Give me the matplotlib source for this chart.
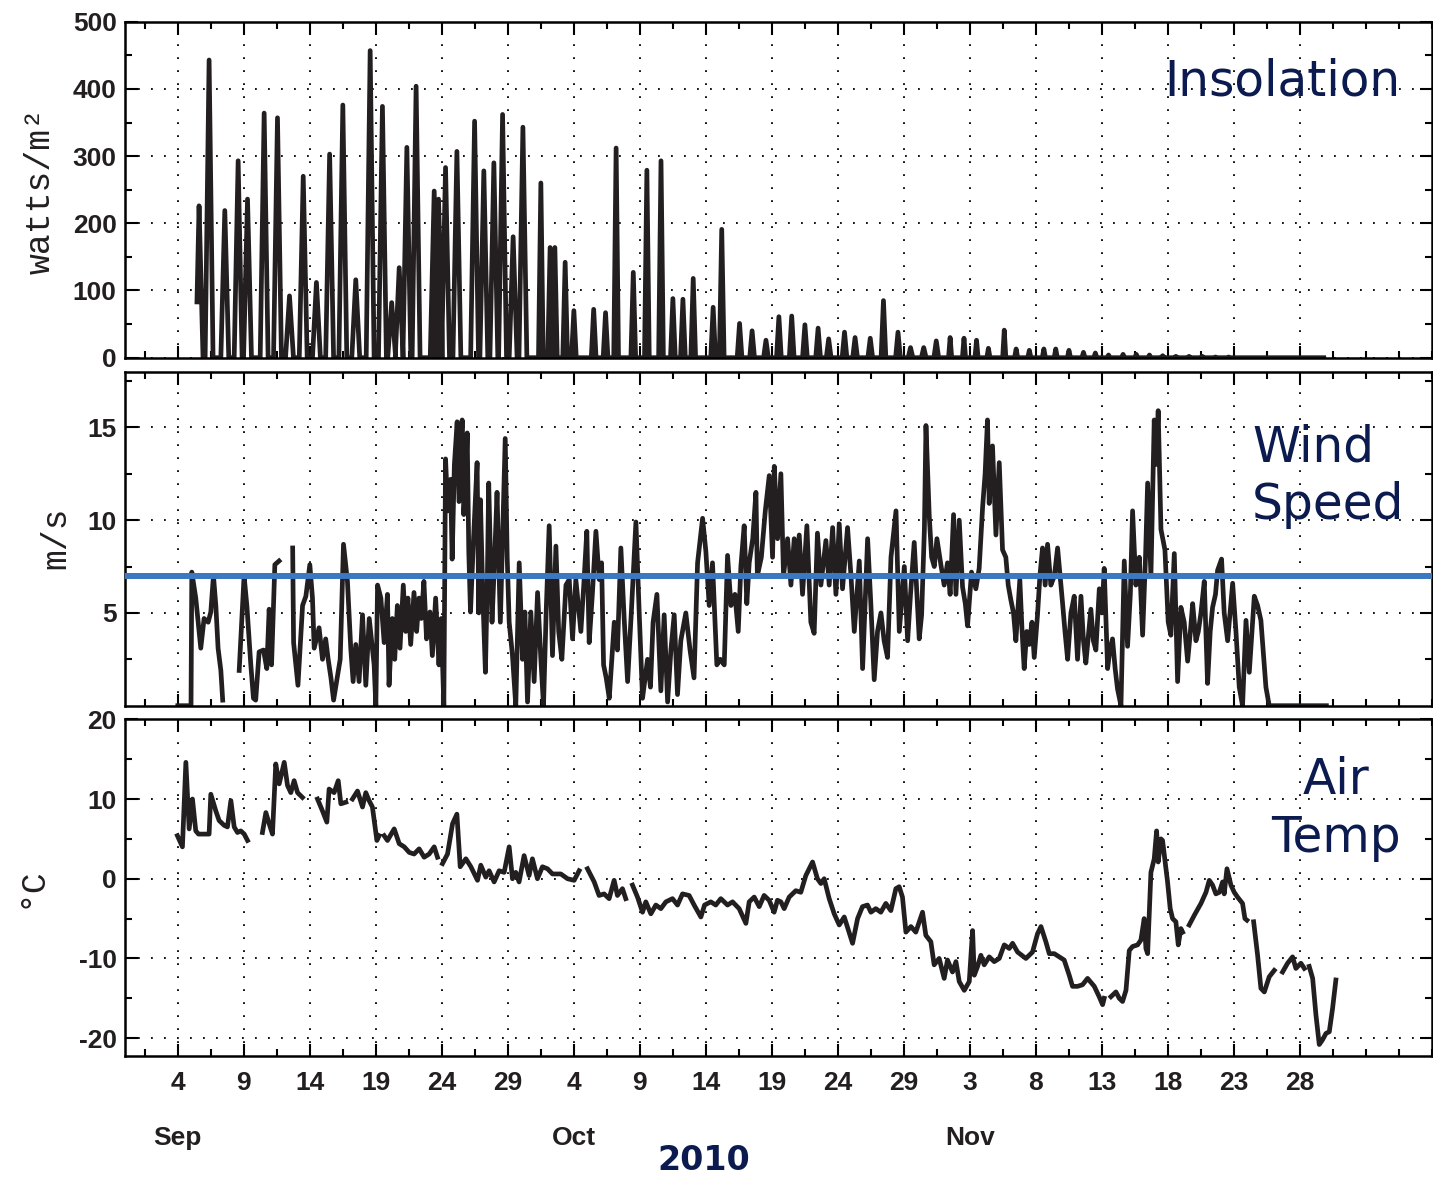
import numpy as np
import matplotlib
matplotlib.use('Agg')
from matplotlib import pyplot as plt
from matplotlib import transforms
from matplotlib.ticker import FixedLocator

plt.rcParams['axes.unicode_minus'] = False

# time axis: days counted from Aug 31 2010 (Sep 4 -> 4, Oct 4 -> 34, Nov 3 -> 64)
major_days = [4, 9, 14, 19, 24, 29, 34, 39, 44, 49, 54, 59, 64, 69, 74, 79, 84, 89]
major_labels = ['4', '9', '14', '19', '24', '29', '4', '9', '14', '19', '24', '29',
                '3', '8', '13', '18', '23', '28']
month_days = [4, 34, 64]
month_names = ['Sep', 'Oct', 'Nov']

# insolation: time and value of each daily maximum (W/m2)
sun_start = (5.45, 83)
sun_day = [5.61, 6.37, 7.56, 8.57, 9.28, 10.54, 11.55, 12.46, 13.5, 14.5, 15.5, 16.5,
           17.48, 18.57, 19.5, 20.2, 20.77, 21.35, 22.05, 23.42, 23.75, 24.28, 25.14,
           26.48, 27.18, 27.94, 28.6, 29.4, 30.14, 31.5, 32.2, 32.56, 33.34, 34.0, 35.5,
           36.4, 37.2, 38.5, 39.53, 40.6, 41.5, 42.26, 43.04, 44.55, 45.2, 46.55, 47.5,
           48.55, 49.53, 50.5, 51.5, 52.5, 53.3, 54.5, 55.3, 56.45, 57.45, 58.55, 59.5,
           60.5, 61.45, 62.5, 63.55, 64.5, 65.4, 66.6, 67.5, 68.5, 69.6, 70.5, 71.5,
           72.6, 73.5, 74.5, 75.6, 76.6, 77.6, 78.6, 79.6, 80.6, 81.6, 82.6, 83.6]
sun_peak = [226, 443, 219, 293, 236, 364, 357, 92, 270, 112, 303, 376,
            116, 457, 374, 82, 134, 313, 404, 248, 236, 283, 307,
            352, 278, 290, 362, 180, 343, 260, 164, 164, 142, 70, 72,
            67, 312, 127, 279, 293, 88, 87, 118, 75, 191, 51, 40,
            26, 61, 62, 49, 44, 28, 38, 30, 29, 85, 38, 15,
            15, 25, 30, 29, 26, 14, 41, 13, 11, 13, 13, 11,
            8, 7, 4, 5, 5, 4, 3, 2, 2, 2, 1, 1]
sun_end = 90.8

nan = np.nan
# wind speed (m/s)
wind_t = [4.0, 4.6, 5.0, 5.06, 5.36, 5.74, 5.99, 6.3, 6.5, 6.7, 6.88, 7.05, 7.26, 7.4, 7.9,
          8.65, 9.02, 9.23, 9.53, 9.73, 9.9, 10.16, 10.49, 10.74, 10.92, 11.1, 11.35, 11.67, 12.2,
          12.7, 12.77, 13.1, 13.45, 13.7, 14.0, 14.2, 14.33, 14.7, 14.96, 15.2, 15.39, 15.6, 15.8,
          16.3, 16.55, 16.85, 17.1, 17.28, 17.48, 17.73, 17.99, 18.24, 18.5, 18.87, 19.0, 19.13,
          19.38, 19.63, 19.88, 20.0, 20.25, 20.43, 20.63, 20.83, 21.08, 21.26, 21.43, 21.64,
          21.89, 22.09, 22.27, 22.44, 22.64, 22.84, 23.1, 23.28, 23.53, 23.78, 23.95, 24.15,
          24.28, 24.45, 24.66, 24.78, 24.95, 25.16, 25.3, 25.54, 25.66, 25.8, 25.92, 26.04,
          26.17, 26.4, 26.67, 26.8, 26.92, 27.1, 27.3, 27.45, 27.55, 27.8, 28.0, 28.18, 28.43,
          28.6, 28.8, 28.95, 29.1, 29.35, 29.6, 29.86, 30.11, 30.29, 30.49, 30.74, 30.99, 31.25,
          31.5, 31.7, 31.9, 32.13, 32.38, 32.64, 32.85, 33.09, 33.4, 33.65, 33.9, 34.15, 34.53,
          34.75, 34.98, 35.16, 35.4, 35.67, 35.92, 36.1, 36.25, 36.45, 36.68, 37.06, 37.3, 37.56,
          37.81, 38.07, 38.35, 38.7, 38.95, 39.2, 39.58, 39.8, 40.0, 40.29, 40.59, 40.84, 41.1,
          41.35, 41.6, 41.85, 42.1, 42.48, 42.8, 43.1, 43.37, 43.75, 44.0, 44.25, 44.5, 44.83,
          45.09, 45.39, 45.64, 45.9, 46.2, 46.45, 46.65, 46.9, 47.1, 47.28, 47.55, 47.79, 47.9,
          48.2, 48.5, 48.8, 49.05, 49.18, 49.43, 49.68, 49.88, 50.19, 50.44, 50.69, 50.85, 51.07,
          51.32, 51.65, 51.95, 52.2, 52.45, 52.71, 53.09, 53.34, 53.6, 53.85, 54.1, 54.35, 54.73,
          54.99, 55.24, 55.62, 55.87, 56.25, 56.5, 56.75, 57.0, 57.26, 57.5, 57.76, 58.02, 58.4,
          58.65, 59.03, 59.28, 59.5, 59.78, 60.16, 60.34, 60.55, 60.67, 60.92, 61.1, 61.3, 61.5,
          61.8, 62.05, 62.3, 62.5, 62.76, 62.94, 63.19, 63.44, 63.65, 63.82, 64.12, 64.45, 64.7,
          64.96, 65.15, 65.33, 65.46, 65.71, 65.97, 66.22, 66.47, 66.72, 66.9, 67.1, 67.3, 67.48,
          67.78, 67.95, 68.11, 68.3, 68.49, 68.7, 68.87, 69.12, 69.3, 69.5, 69.7, 69.88, 70.13,
          70.4, 70.64, 71.02, 71.2, 71.4, 71.65, 71.9, 72.15, 72.41, 72.6, 72.78, 73.0, 73.16,
          73.35, 73.54, 73.8, 74.0, 74.17, 74.43, 74.6, 74.8, 75.0, 75.18, 75.44, 75.69, 75.94,
          76.15, 76.32, 76.57, 76.83, 77.08, 77.3, 77.46, 77.71, 77.96, 78.1, 78.26, 78.47, 78.77,
          79.02, 79.22, 79.48, 79.73, 79.98, 80.23, 80.49, 80.7, 80.87, 81.12, 81.3, 81.5, 81.75,
          82.0, 82.2, 82.38, 82.6, 82.76, 83.06, 83.26, 83.52, 83.9, 84.15, 84.4, 84.65, 84.91,
          85.16, 85.54, 85.79, 86.04, 86.42, 86.67, 91.0]
wind_v = [0, 0, 0, 7.2, 5.8, 3.1, 4.7, 4.5, 5.05, 7.0, 5.4, 3.1, 1.9, 0.3, nan,
          1.9, 7.0, 5.4, 2.2, 0.4, 0.3, 2.9, 3.0, 2.0, 5.2, 2.2, 7.6, 7.8, nan,
          8.5, 3.4, 1.1, 5.4, 5.9, 7.6, 5.8, 3.1, 4.2, 2.5, 3.6, 2.5, 1.5, 0.3,
          2.5, 8.7, 6.7, 3.1, 1.3, 3.3, 1.3, 4.9, 1.1, 4.7, 2.2, 0, 6.5,
          5.8, 3.4, 6.0, 1.1, 4.7, 2.5, 5.4, 3.1, 6.5, 4.0, 5.8, 3.3,
          6.1, 4.0, 5.8, 4.7, 6.7, 3.6, 5.05, 2.7, 5.8, 2.2, 4.7, 0,
          13.3, 10.5, 12.2, 7.9, 13.0, 15.3, 11.0, 15.4, 10.3, 12.0, 14.7, 8.3,
          5.05, 9.0, 13.1, 5.0, 11.1, 6.0, 1.8, 7.0, 12.0, 4.5, 8.0, 11.5, 4.5,
          9.0, 14.4, 8.0, 4.5, 2.7, 0, 7.7, 2.5, 5.05, 0.2, 5.05, 1.3, 6.1,
          2.5, 0, 5.0, 9.7, 2.7, 8.6, 4.0, 2.5, 6.5, 6.8, 3.6, 6.8, 4.0,
          6.5, 9.4, 3.4, 6.0, 9.4, 6.8, 7.7, 2.2, 1.5, 0.4, 4.5, 3.0, 8.5,
          4.7, 1.3, 5.0, 9.9, 5.0, 0.4, 2.5, 1.0, 4.5, 6.0, 0.8, 4.9, 0.2,
          3.0, 4.9, 0.6, 3.5, 5.0, 3.0, 1.5, 7.7, 10.1, 8.3, 5.4, 7.7, 2.2,
          2.5, 2.2, 8.1, 5.4, 6.0, 4.0, 7.5, 9.7, 5.5, 7.7, 9.0, 11.5, 7.0,
          8.0, 10.5, 12.4, 8.0, 12.9, 9.0, 12.5, 7.0, 9.0, 6.5, 9.0, 7.0, 9.2,
          6.0, 9.7, 4.5, 3.9, 9.3, 6.5, 8.9, 6.5, 9.6, 6.0, 9.8, 6.3, 9.6,
          7.0, 4.0, 7.8, 2.0, 9.0, 5.4, 1.4, 4.0, 5.0, 3.5, 2.6, 8.0, 10.5,
          4.0, 7.5, 3.5, 6.0, 8.8, 3.6, 4.9, 9.5, 15.1, 10.2, 8.0, 7.5, 9.0,
          7.6, 6.5, 7.7, 6.0, 10.3, 6.0, 10.0, 6.4, 5.5, 4.3, 7.2, 6.3, 7.4,
          10.7, 12.5, 15.4, 10.9, 14.0, 9.2, 13.1, 8.4, 8.0, 6.5, 5.7, 5.0, 3.5,
          6.8, 4.0, 2.0, 4.0, 3.3, 4.5, 2.6, 4.9, 7.0, 8.5, 6.5, 8.7, 6.5,
          7.0, 8.5, 5.5, 4.0, 2.5, 5.0, 5.9, 2.5, 5.9, 3.5, 2.3, 4.0, 5.2,
          3.5, 3.0, 6.3, 5.0, 7.4, 2.0, 3.0, 3.6, 2.0, 0.9, 0, 7.8, 3.2,
          6.0, 10.5, 6.5, 8.0, 3.8, 8.0, 12.0, 7.0, 15.4, 13.0, 15.9, 9.5, 8.4,
          4.5, 3.8, 8.2, 1.3, 5.3, 4.5, 2.4, 4.0, 5.5, 3.5, 4.0, 5.0, 6.7,
          1.2, 4.0, 5.3, 6.0, 7.3, 7.9, 5.0, 3.5, 6.6, 4.0, 1.0, 0, 4.6,
          1.8, 5.9, 5.4, 4.6, 1.0, 0, 0]
wind_ref = 7.0

# air temperature (deg C)
temp_t = [3.97, 4.35, 4.61, 4.86, 5.11, 5.36, 5.57, 6.0, 6.37, 6.5, 6.88, 7.13, 7.51, 7.76,
          8.02, 8.27, 8.52, 8.77, 9.03, 9.28, 9.8,
          10.41, 10.67, 10.92, 11.17, 11.42, 11.68, 12.06, 12.31, 12.56, 12.81, 13.07, 13.44, 14.0,
          14.58, 14.96, 15.29, 15.46, 15.84, 16.15, 16.35, 16.73, 17.0,
          17.23, 17.61, 17.99, 18.24, 18.49, 18.74, 19.08, 19.25, 19.45,
          19.63, 19.88, 20.39, 20.77, 21.15, 21.53, 21.9, 22.28, 22.66, 23.04, 23.42, 23.67, 23.85,
          24.05, 24.43, 24.81, 25.14, 25.39, 25.82, 26.2, 26.7, 26.95, 27.33, 27.58, 27.96, 28.34,
          28.72, 29.1, 29.35, 29.6, 29.85, 30.23, 30.61, 30.86, 31.24, 31.62, 32.0, 32.38, 33.01,
          33.52, 34.02, 34.4, 34.7,
          35.03, 35.54, 35.91, 36.29, 36.67, 37.05, 37.3, 37.68, 37.93, 38.2,
          38.44, 38.82, 39.2, 39.45, 39.83, 40.21, 40.59, 40.97, 41.47, 41.85, 42.23, 42.73, 43.11,
          43.62, 43.9, 44.37, 44.75, 45.13, 45.64, 46.02, 46.52, 47.03, 47.28, 47.66, 48.04, 48.41,
          48.79, 49.17, 49.42, 49.68, 49.93, 50.31, 50.81, 51.19, 51.57, 52.08, 52.45, 52.71, 52.96,
          53.34, 53.72, 54.1, 54.48, 55.11, 55.49, 55.86, 56.24, 56.5, 56.87, 57.25, 57.63, 58.01,
          58.39, 58.64, 58.89, 59.15, 59.53, 59.9, 60.41, 60.66, 61.04, 61.29, 61.67, 62.05, 62.3,
          62.68, 62.94, 63.19, 63.57, 63.95, 64.2, 64.33, 64.58, 64.83, 65.08, 65.46, 65.84, 66.22,
          66.6, 66.98, 67.23, 67.61, 68.24, 68.74, 69.12, 69.38, 69.75, 70.01, 70.39, 70.76, 71.14,
          71.52, 71.77, 72.15, 72.53, 72.91, 73.42, 73.79, 74.05, 74.17, 74.4,
          74.68, 75.06, 75.31, 75.56, 75.82, 76.07, 76.32, 76.7, 76.95, 77.2, 77.33, 77.46, 77.71,
          77.96, 78.14, 78.26, 78.47, 78.59, 78.97, 79.17, 79.35, 79.6, 79.78, 79.98, 80.11, 80.35,
          80.61, 80.99, 81.5, 81.88, 82.13, 82.38, 82.63, 82.89, 83.14, 83.26, 83.47, 83.77, 84.02,
          84.27, 84.65, 84.83, 84.98, 85.2,
          85.49, 85.79, 86.04, 86.3, 86.67, 87.05, 87.4,
          87.68, 88.06, 88.44, 88.69, 89.07, 89.33, 89.5,
          89.7, 89.96, 90.21, 90.46, 90.71, 90.97, 91.22, 91.47, 91.72]
temp_v = [5.4, 4.0, 14.6, 6.25, 10.0, 6.0, 5.6, 5.6, 5.6, 10.6, 8.5, 7.3, 6.7, 6.5,
          9.8, 6.5, 5.8, 6.0, 5.6, 4.8, nan,
          5.8, 8.3, 6.9, 5.6, 14.4, 11.9, 14.6, 11.7, 10.8, 12.3, 10.8, 10.2, nan,
          10.0, 8.5, 7.1, 11.25, 10.8, 12.3, 9.4, 9.6, nan,
          10.0, 11.0, 9.0, 10.8, 9.8, 9.0, 4.8, 5.4, nan,
          5.4, 4.8, 6.25, 4.4, 4.0, 3.3, 3.1, 3.75, 2.7, 3.1, 4.0, 2.7, nan,
          1.9, 3.1, 6.9, 8.1, 1.5, 2.5, 1.5, -0.2, 1.7, 0.2, 1.0, -0.4, 1.0,
          0.8, 4.0, 0.0, 0.8, -0.4, 2.9, 0.4, 2.5, 0.0, 1.5, 1.25, 0.6, 0.6,
          0.0, -0.2, 1.0, nan,
          1.25, -0.4, -2.1, -1.9, -2.5, -0.2, -2.1, -1.25, -2.5, nan,
          -0.8, -2.3, -4.2, -2.9, -4.4, -3.3, -3.75, -2.9, -2.5, -3.3, -1.9, -2.1, -3.3,
          -4.8, -3.3, -2.9, -3.3, -2.5, -3.3, -2.9, -3.75, -5.6, -2.9, -2.3, -3.5, -2.1,
          -2.7, -4.2, -2.7, -2.9, -3.75, -2.3, -1.5, -1.7, 0.4, 2.1, 0.0, -0.6, 0.0,
          -2.5, -4.4, -5.8, -4.8, -8.1, -5.0, -3.5, -3.3, -4.2, -3.75, -4.2, -3.1, -4.0,
          -1.25, -1.0, -2.3, -6.7, -6.0, -6.7, -4.2, -7.1, -7.9, -10.8, -10.0, -12.5, -10.2,
          -11.7, -10.4, -12.9, -14.0, -12.9, -6.5, -12.1, -11.0, -9.6, -10.8, -9.8, -10.4, -10.0,
          -8.3, -8.75, -8.1, -9.2, -10.0, -9.2, -6.9, -6.0, -7.9, -9.4, -9.4, -9.8, -10.2,
          -12.1, -13.5, -13.5, -13.3, -12.5, -13.5, -14.8, -15.8, -15.0, nan,
          -14.8, -14.2, -15.0, -15.4, -14.0, -9.0, -8.5, -8.3, -7.7, -5.0, -8.75, -9.4, 0.8,
          2.5, 6.0, 2.1, 5.0, 4.8, -0.4, -3.75, -5.0, -5.4, -8.3, -6.25, -6.7, nan,
          -5.8, -4.6, -3.1, -1.7, -0.2, -0.8, -1.9, -1.7, -0.4, -1.9, 1.25, -0.8, -1.7,
          -2.3, -3.1, -5.0, -5.2, nan,
          -5.4, -9.6, -13.75, -14.2, -12.3, -11.5, nan,
          -11.7, -10.6, -9.8, -11.25, -10.6, -11.25, nan,
          -11.0, -12.5, -17.1, -20.8, -20.2, -19.4, -19.2, -16.25, -12.7]


def daily_spikes(day, peak, start, end):
    # zero at night, one peak around local noon; the nights get longer into winter
    t, v = [start[0]], [start[1]]
    for i, (d, p) in enumerate(zip(day, peak)):
        hw = 0.3 if d < 31 else (0.18 if d < 62 else 0.12)
        if i > 0:
            t.append(d - hw)
            v.append(0)
        t += [d, d + hw]
        v += [p, 0]
    t.append(end)
    v.append(0)
    return t, v


W, H = 1433, 1178
fig = plt.figure(figsize=(W / 100, H / 100), dpi=100)

line_col = '#231f20'
navy = '#0b1a4f'
tick_font = dict(family='Liberation Sans', size=19, weight='bold')
lw_data = 3.4

left = 125 / W
width = (1432 - 125) / W
rects = [(357.7, 336.0), (705.7, 334.0), (1055.7, 336.4)]  # bottom edge, height in px
axes = []
for bot, hgt in rects:
    ax = fig.add_axes([left, 1 - bot / H, width, hgt / H])
    axes.append(ax)
ax1, ax2, ax3 = axes

for ax in axes:
    ax.set_xlim(0, 99)
    ax.xaxis.set_major_locator(FixedLocator(major_days))
    ax.xaxis.set_minor_locator(FixedLocator(np.arange(1.5, 99.1, 2.5)))
    ax.tick_params(which='both', direction='in', top=True, right=True, width=1.5,
                   color='black')
    ax.tick_params(which='major', length=9)
    ax.tick_params(which='minor', length=5)
    ax.tick_params(axis='y', pad=6)
    ax.tick_params(axis='x', pad=11)
    for s in ax.spines.values():
        s.set_linewidth(1.8)
        s.set_color('black')
    ax.grid(True, which='major', color='black', linewidth=1.3, linestyle=(0, (1, 6.2)))
    ax.set_axisbelow(True)

# insolation
sun_t, sun_v = daily_spikes(sun_day, sun_peak, sun_start, sun_end)
ax1.plot(sun_t, sun_v, color=line_col, lw=lw_data)
ax1.set_ylim(0, 500)
ax1.set_yticks(np.arange(0, 501, 100))
ax1.set_yticks(np.arange(50, 500, 100), minor=True)

# wind speed with the 7 m/s reference line
ax2.plot(wind_t, wind_v, color=line_col, lw=lw_data)
ax2.axhline(wind_ref, color='#3a78c2', lw=4.3, zorder=5)
ax2.set_ylim(0, 18)
ax2.set_yticks([5, 10, 15])
ax2.set_yticks([2.5, 7.5, 12.5, 17.5], minor=True)

# air temperature
ax3.plot(temp_t, temp_v, color=line_col, lw=lw_data)
ax3.set_ylim(-22.2, 20)
ax3.set_yticks([-20, -10, 0, 10, 20])
ax3.set_yticks([-15, -5, 5, 15], minor=True)

for ax in (ax1, ax2):
    ax.set_xticklabels([])
ax3.set_xticklabels(major_labels)
for ax in axes:
    for lab in ax.get_yticklabels() + ax.get_xticklabels():
        lab.set_family(tick_font['family'])
        lab.set_size(tick_font['size'])
        lab.set_weight(tick_font['weight'])
        lab.set_color(line_col)

# month names under the first tick of each month
trans = transforms.blended_transform_factory(ax3.transData, fig.transFigure)
for d, name in zip(month_days, month_names):
    ax3.text(d, 1 - 1138 / H, name, transform=trans, ha='center', va='center',
             color=line_col, **tick_font)
fig.text(704 / W, 1 - 1160 / H, '2010', ha='center', va='center', color=navy,
         family='DejaVu Sans', weight='bold', size=24)

# units
mono = dict(family='Liberation Mono', size=25, rotation=90, ha='center', va='center',
            color=line_col)
fig.text(40 / W, 1 - 191 / H, 'watts/m²', **mono)
fig.text(56 / W, 1 - 538 / H, 'm/s', **mono)
fig.text(31 / W, 1 - 887 / H, '°C', **mono)

# panel names
name_font = dict(family='DejaVu Sans', size=35, color=navy)
fig.text(1400 / W, 1 - 82 / H, 'Insolation', ha='right', va='center', **name_font)
fig.text(1252 / W, 1 - 476 / H, 'Wind\nSpeed', ha='left', va='center',
         linespacing=1.25, **name_font)
fig.text(1336 / W, 1 - 809 / H, 'Air\nTemp', ha='center', va='center',
         multialignment='center', linespacing=1.25, **name_font)

fig.savefig('out.png', dpi=100)
